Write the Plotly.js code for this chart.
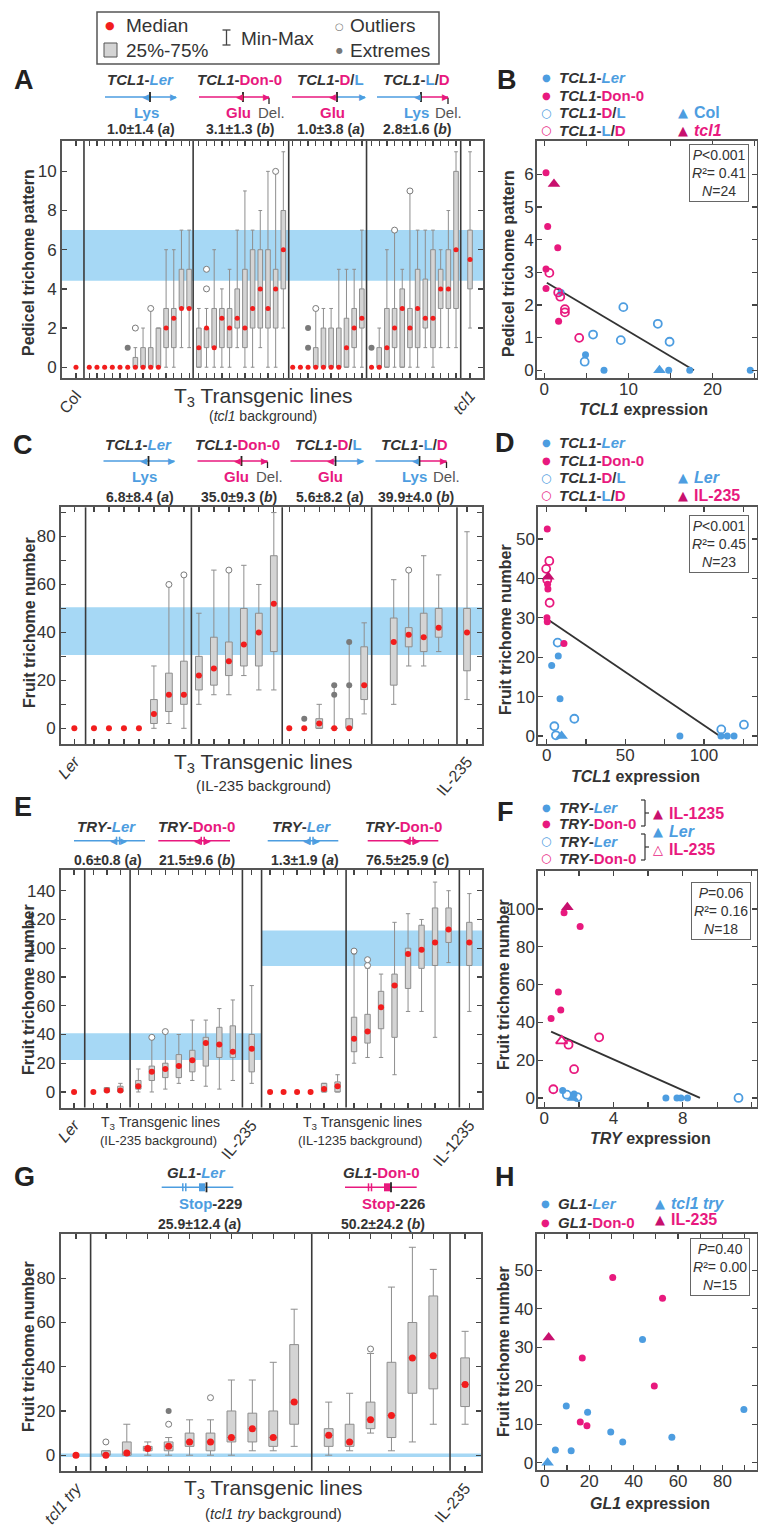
<!DOCTYPE html>
<html><head><meta charset="utf-8">
<script src="https://cdn.plot.ly/plotly-3.0.1.min.js"></script>
<style>html,body{margin:0;padding:0;background:#fff}</style>
</head><body><div id="chart" style="width:758px;height:1526px"></div>
<script>
// ================= DATA =================
// Panel A : pedicel trichome pattern, tcl1 background
const aGroupNames = ['Col','TCL1-Ler','TCL1-Don-0','TCL1-D/L','TCL1-L/D','tcl1'];
const aGroupSizes = [1,14,12,10,12,1];
const aMedian = [0, 0,0,0,0,0,0,0,0,0,0,2,2.5,3,3, 1,2,1,2.5,2,2.5,2,3,4,3,4,6, 0,0,0,0,0,0,0,1,2,2.5, 0,0,1,2,3,2,3,2.5,2.5,4,4,6, 5.5];
const aQ1     = [0, 0,0,0,0,0,0,0,0,0,0,1,1,3,3, 0,1,1,1,1,2,1,2,2,2,2,4, 0,0,0,0,0,0,0,0,1,2, 0,0,0,1,0,1,1,2,1,3,3,3, 4];
const aQ3     = [0, 0,0,0,0,0,0,0.5,1,1,2,3,3,5,5, 2,2,3,3,3,4,5,6,6,6,5,8, 0,0,0,1,2,2,2,2.5,3,4, 0,1,3,3,4,3,5,4.5,6,5,6,10, 7];
const aMin    = [0, 0,0,0,0,0,0,0,0,0,0,0,0,1,1, 0,0,0,0,0,1,0,0,1,0,0,2, 0,0,0,0,0,0,0,0,0,0, 0,0,0,0,0,0,0,1,0,1,1,1, 2];
const aMax    = [0, 0,0,0,0,0,0,1,2,3,2,6,6,7,7, 3,3,6,4,5,7,9,7,8,10,10,11, 0,0,0,3,3,3,5,5,5,7, 0,2,6,7,5,9,7,7,7,6,8,11, 11];
const aOutliers = [[7,2],[9,3],[16,4],[16,5],[25,10],[30,3],[40,7],[42,9]];
const aExtremes = [[6,1],[29,1],[29,2],[37,1]];
const aBand = [4.42, 7.0];
const aMeanSD = [['1.0','1.4','a'],['3.1','1.3','b'],['1.0','3.8','a'],['2.8','1.6','b']];

// Panel B : pedicel pattern vs TCL1 expression
const bLerX = [4.9, 7.1, 14.8, 17.3, 24.5, 2.0],  bLerY = [0.47, 0, 0, 0, 0, 2.38];
const bDonX = [0.2, 0.4, 1.6, 0.2, 0.2, 1.7],     bDonY = [6.05, 4.4, 3.75, 3.1, 2.5, 1.5];
const bDLX  = [4.8, 5.8, 9.1, 9.4, 13.5, 14.9],   bDLY  = [0.26, 1.09, 0.92, 1.93, 1.42, 0.87];
const bLDX  = [0.6, 1.65, 1.9, 2.45, 2.45, 4.15], bLDY  = [2.98, 2.38, 2.25, 1.87, 1.77, 0.99];
const bColXY = [13.7, 0], bTcl1XY = [1.15, 5.7];
const bFitX = [0.3, 17.8], bFitY = [2.68, 0];
const bStats = ['&lt;0.001', '0.41', '24'];

// Panel C : fruit trichome number, IL-235 background
const cGroupSizes = [1,7,6,6,4,1];
const cMedian = [0, 0,0,0,0,6,14,14, 22,25,28,35,40,52, 0,0,2,0,0,18, 36,39,38,42, 40];
const cQ1     = [0, 0,0,0,0,2,7,10, 16,18,22,26,26,32, 0,0,0,0,0,12, 18,34,32,38, 24];
const cQ3     = [0, 0,0,0,0,12,23,28, 30,38,36,50,48,72, 0,0,4,0,4,34, 46,42,48,50, 50];
const cMin    = [0, 0,0,0,0,0,2,0, 10,14,14,22,16,16, 0,0,0,0,0,6, 10,26,26,32, 12];
const cMax    = [0, 0,0,0,0,26,60,64, 48,66,66,68,60,90, 0,0,10,18,36,44, 62,66,72,64, 82];
const cOutliers = [[6,60],[7,64],[10,66],[21,66]];
const cExtremes = [[15,4],[17,14],[17,18],[18,18],[18,36]];
const cBand = [30.6, 50.5];
const cMeanSD = [['6.8','8.4','a'],['35.0','9.3','b'],['5.6','8.2','a'],['39.9','4.0','b']];

// Panel D : fruit trichome number vs TCL1 expression
const dLerX = [3.2, 7.4, 8.5, 84.7, 110.8, 114.8, 119.1], dLerY = [17.9, 20.3, 9.5, 0, 0, 0, 0];
const dDonX = [0.4, 0.6, 0.8, 0.2, 0.4, 11.0],            dDonY = [52.5, 38.5, 37.3, 30.0, 29.0, 23.5];
const dDLX  = [7.0, 4.9, 5.9, 17.6, 111.0, 125.4],        dDLY  = [23.7, 2.5, 0.2, 4.4, 1.7, 2.9];
const dLDX  = [-0.3, 1.7, 1.9, 0.4],                      dLDY  = [42.4, 44.4, 33.8, 39.6];
const dLerXY = [9.5, 0], dIL235XY = [1.0, 40.4];
const dFitX = [0.3, 110], dFitY = [29.7, 0];
const dStats = ['&lt;0.001', '0.45', '23'];

// Panel E : fruit trichome number, TRY transgenes
const eGroupSizes = [1,3,8,1,6,8,1];
const eMedian = [0, 0,1,1, 4,14,16,18,22,34,33,28, 30, 0,0,0,0,2,4, 37,42,59,74,96,99,104,113, 104];
const eQ1     = [0, 0,0,0, 2,8,10,10,14,18,24,24, 14, 0,0,0,0,0,0, 28,34,44,38,72,86,88,104, 88];
const eQ3     = [0, 0,3,4, 8,18,20,26,29,38,45,46, 40, 0,0,0,0,6,7, 52,54,70,82,100,116,128,128, 118];
const eMin    = [0, 0,0,0, 0,0,2,6,8,4,2,8, 6, 0,0,0,0,0,0, 20,24,24,12,56,56,38,90, 56];
const eMax    = [0, 0,3,6, 16,38,42,40,50,50,58,64, 74, 0,0,0,0,6,12, 96,86,82,118,124,120,146,140, 138];
const eOutliers = [[5,38],[6,42],[19,98],[20,88],[20,92]];
const eBand1 = [22.2, 40.8], eBand2 = [87.6, 112.4];
const eMeanSD = [['0.6','0.8','a'],['21.5','9.6','b'],['1.3','1.9','a'],['76.5','25.9','c']];

// Panel F : fruit trichome number vs TRY expression
const fLerX  = [1.06, 1.72, 7.03, 7.67, 7.9, 8.28], fLerY  = [3.9, 2.1, 0, 0, 0, 0];
const fDonX  = [1.14, 2.07, 0.81, 0.95, 0.39],      fDonY  = [98, 90.7, 56.1, 46.6, 42];
const fLerOX = [1.3, 1.91, 11.23],                  fLerOY = [1.7, 0.4, 0];
const fDonOX = [3.17, 1.4, 1.72, 0.52],             fDonOY = [32.1, 28.2, 15.2, 4.6];
const fIL1235XY = [1.33, 101], fLerXY = [1.65, 0], fIL235XY = [1.0, 30.2];
const fFitX = [0.39, 9.0], fFitY = [35.1, 0];
const fStats = ['=0.06', '0.16', '18'];

// Panel G : fruit trichome number, GL1 transgenes (tcl1 try background)
const gGroupSizes = [1,10,6,1];
const gMedian = [0, 0,1,3,4,6,6,8,12,8,24, 9,6,16,18,44,45, 32];
const gQ1     = [0, 0,0,2,2,4,2,6,6,4,14, 4,4,12,8,28,30, 22];
const gQ3     = [0, 2,6,4,6,10,10,20,19,20,50, 12,14,24,42,60,72, 44];
const gMin    = [0, 0,0,0,0,0,0,0,2,2,4, 0,2,10,2,6,14, 14];
const gMax    = [0, 2,14,6,8,16,16,34,34,42,66, 24,28,46,76,94,84, 56];
const gOutliers = [[1,6],[4,14],[6,26],[13,48]];
const gExtremes = [[4,20]];
const gBand = [-0.8, 0.8];
const gMeanSD = [['25.9','12.4','a'],['50.2','24.2','b']];

// Panel H : fruit trichome number vs GL1 expression
const hLerX = [4.8, 9.7, 11.9, 19.3, 29.7, 35.1, 44, 57.2, 89.6], hLerY = [3.3, 14.7, 3.1, 13.1, 8.0, 5.4, 32, 6.6, 13.8];
const hDonX = [30.6, 53, 16.9, 49.3, 16, 19],                    hDonY = [48.1, 42.7, 27.2, 19.9, 10.6, 9.6];
const hTclTryXY = [1.3, 0], hIL235XY = [1.8, 32.5];
const hStats = ['=0.40', '0.00', '15'];

// ================= DRAWING =================
const W = 758, H = 1526;
const X = v => v / W, Y = v => 1 - v / H;
const BLUE = '#4d9de0', MAG = '#e8197e', TXT = '#333333', BAND = '#a6d8f5', FRAME = '#555555', RED = '#f21d1d', DMAG = '#c8106e';
const FONT = '"Liberation Sans", Arial, Helvetica, sans-serif';
const traces = [], shapes = [], annotations = [];
const layout = {
  width: W, height: H, margin: {l: 0, r: 0, t: 0, b: 0}, showlegend: false,
  paper_bgcolor: '#ffffff', plot_bgcolor: '#ffffff', font: {family: FONT, color: TXT},
  hovermode: false
};
const names = n => n === 1 ? {xa: 'xaxis', ya: 'yaxis', xr: 'x', yr: 'y'} : {xa: 'xaxis' + n, ya: 'yaxis' + n, xr: 'x' + n, yr: 'y' + n};
const axBase = () => ({
  showline: true, mirror: 'ticks', linecolor: FRAME, linewidth: 2, ticks: 'inside', ticklen: 5,
  tickwidth: 1.3, tickcolor: '#444', showgrid: false, zeroline: false, fixedrange: true,
  tickfont: {size: 17, color: TXT, family: FONT}
});
function ann(x, y, text, o) {
  annotations.push(Object.assign({xref: 'paper', yref: 'paper', x: X(x), y: Y(y), text: text, showarrow: false,
    xanchor: 'center', yanchor: 'middle', font: {size: 15, color: TXT, family: FONT}}, o || {}));
}
function pline(x0, y0, x1, y1, color, width) {
  shapes.push({type: 'line', xref: 'paper', yref: 'paper', x0: X(x0), y0: Y(y0), x1: X(x1), y1: Y(y1), line: {color: color, width: width || 1.5}});
}
function prect(x0, y0, x1, y1, fill, lc, lw) {
  shapes.push({type: 'rect', xref: 'paper', yref: 'paper', x0: X(x0), y0: Y(y0), x1: X(x1), y1: Y(y1), fillcolor: fill, line: {color: lc || fill, width: lw || 0}});
}
function positions(sizes, gaps) {
  const pos = [], seps = [];
  let x = 0;
  sizes.forEach((s, g) => {
    for (let k = 0; k < s; k++) pos.push(x + k);
    const last = x + s - 1;
    if (g < sizes.length - 1) { const sp = last + gaps[g][0]; seps.push(sp); x = sp + gaps[g][1]; }
  });
  return {pos, seps};
}

function boxPanel(n, box, sizes, gaps, pads, med, q1, q3, lo, hi, outs, exts, ctrl, yr, ytv, ytt, bw, dot) {
  const nm = names(n);
  const {pos, seps} = positions(sizes, gaps);
  const keep = med.map((v, i) => i).filter(i => q3[i] > q1[i] || hi[i] > lo[i]);
  traces.push({type: 'box', xaxis: nm.xr, yaxis: nm.yr, x: keep.map(i => pos[i]),
    q1: keep.map(i => q1[i]), median: keep.map(i => med[i]), q3: keep.map(i => q3[i]),
    lowerfence: keep.map(i => lo[i]), upperfence: keep.map(i => hi[i]),
    width: bw, whiskerwidth: 0.8, fillcolor: '#d4d4d4', line: {color: '#8e8e8e', width: 1}, boxpoints: false, hoverinfo: 'skip'});
  if (outs.length) traces.push({type: 'scatter', mode: 'markers', xaxis: nm.xr, yaxis: nm.yr,
    x: outs.map(o => pos[o[0]]), y: outs.map(o => o[1]),
    marker: {symbol: 'circle', size: 6, color: '#ffffff', line: {color: '#7a7a7a', width: 1}}});
  if (exts.length) traces.push({type: 'scatter', mode: 'markers', xaxis: nm.xr, yaxis: nm.yr,
    x: exts.map(o => pos[o[0]]), y: exts.map(o => o[1]),
    marker: {symbol: 'circle', size: 6, color: '#7a7a7a'}});
  traces.push({type: 'scatter', mode: 'markers', xaxis: nm.xr, yaxis: nm.yr, x: pos, y: med,
    marker: {symbol: 'circle', size: dot, color: RED}});
  const ticktext = pos.map(() => ' ');
  Object.keys(ctrl).forEach(k => { ticktext[k === 'last' ? pos.length - 1 : +k] = ctrl[k]; });
  layout[nm.xa] = Object.assign(axBase(), {domain: [X(box[0]), X(box[1])], anchor: nm.yr,
    range: [pos[0] - pads[0], pos[pos.length - 1] + pads[1]], tickmode: 'array', tickvals: pos, ticktext: ticktext,
    tickangle: -50, tickfont: {size: 16, color: TXT, family: FONT}});
  layout[nm.ya] = Object.assign(axBase(), {domain: [Y(box[3]), Y(box[2])], anchor: nm.xr,
    range: yr, tickmode: 'array', tickvals: ytv, ticktext: ytt});
  seps.forEach(s => shapes.push({type: 'line', xref: nm.xr, yref: nm.yr + ' domain', x0: s, x1: s, y0: 0, y1: 1,
    line: {color: '#3a3a3a', width: 1.6}}));
  return {pos, seps, range: layout[nm.xa].range};
}
function band(n, x0, x1, yv, useDomain) {
  const nm = names(n);
  shapes.push({type: 'rect', xref: useDomain ? nm.xr + ' domain' : nm.xr, yref: nm.yr, x0: x0, x1: x1, y0: yv[0], y1: yv[1],
    fillcolor: BAND, line: {width: 0}, layer: 'below'});
}
function scatPanel(n, box, xr, yr, xtv, xtt, ytv, ytt) {
  const nm = names(n);
  layout[nm.xa] = Object.assign(axBase(), {domain: [X(box[0]), X(box[1])], anchor: nm.yr, range: xr,
    tickmode: 'array', tickvals: xtv, ticktext: xtt, ticklabelstandoff: -5});
  layout[nm.ya] = Object.assign(axBase(), {domain: [Y(box[3]), Y(box[2])], anchor: nm.xr, range: yr,
    tickmode: 'array', tickvals: ytv, ticktext: ytt, ticklabelstandoff: -2});
}
function pts(n, xs, ys, symbol, color, size, open) {
  const nm = names(n);
  traces.push({type: 'scatter', mode: 'markers', xaxis: nm.xr, yaxis: nm.yr, x: xs, y: ys,
    marker: open ? {symbol: symbol, size: size, color: color, line: {color: color, width: 1.8}}
                 : {symbol: symbol, size: size, color: color, line: {width: 0}}});
}
function fit(n, xs, ys) {
  const nm = names(n);
  traces.push({type: 'scatter', mode: 'lines', xaxis: nm.xr, yaxis: nm.yr, x: xs, y: ys, line: {color: '#333', width: 1.8}});
}
function statBox(cx, cy, s) {
  ann(cx, cy, '<i>P</i>' + s[0] + '<br><i>R</i>²= ' + s[1] + '<br><i>N</i>=' + s[2],
    {font: {size: 14, color: TXT, family: FONT}, bordercolor: '#666', borderwidth: 1, borderpad: 2, bgcolor: '#fff'});
}
const range = (a, b, s) => { const r = []; for (let v = a; v <= b + 1e-9; v += s) r.push(+v.toFixed(6)); return r; };
const labEvery = (vals, k) => vals.map((v, i) => i % k === 0 ? String(v) : ' ');
const sp = (c, t) => '<span style="color:' + c + '">' + t + '</span>';
const yTitle = (x, y, t) => ann(x, y, '<b>' + t + '</b>', {textangle: -90, font: {size: 16, color: TXT, family: FONT}});
const letter = (x, y, t) => ann(x, y, '<b>' + t + '</b>', {font: {size: 27, color: '#222', family: FONT}});
const meanTxt = m => '<b>' + m[0] + '±' + m[1] + ' (<i>' + m[2] + '</i>)</b>';

// gene diagram: segments [[x0,x1,color]], marks
function gene(y, segs, marks) {
  segs.forEach(s => pline(s[0], y, s[1], y, s[2], 1.5));
  marks.forEach(m => {
    if (m.t === 'L') ann(m.x, y, '◀', {font: {size: 9, color: m.c, family: 'DejaVu Sans'}});
    else if (m.t === 'R') ann(m.x, y, '▶', {font: {size: 9, color: m.c, family: 'DejaVu Sans'}});
    else if (m.t === 'bar') pline(m.x, y - 5, m.x, y + 5, '#222', 1.8);
    else if (m.t === 'hook') { pline(m.x, y + 1, m.x, y + 7, '#222', 1.3); pline(m.x - 3, y + 1, m.x, y + 1, '#222', 1.3); }
    else if (m.t === 'blk') prect(m.x, y - 4, m.x + (m.w || 5), y + 4, m.c);
    else if (m.t === 'dbl') { pline(m.x - 1.5, y - 4, m.x - 1.5, y + 4, m.c, 1.5); pline(m.x + 1.5, y - 4, m.x + 1.5, y + 4, m.c, 1.5); }
  });
}
function tclHeaders(dx, yName, yArrow, ySub, yStat, meanSD) {
  const nm = [
    '<b><i>TCL1</i>-' + sp(BLUE, '<i>Ler</i>') + '</b>',
    '<b><i>TCL1</i>-' + sp(MAG, 'Don-0') + '</b>',
    '<b><i>TCL1</i>-' + sp(MAG, 'D') + '/' + sp(BLUE, 'L') + '</b>',
    '<b><i>TCL1</i>-' + sp(BLUE, 'L') + '/' + sp(MAG, 'D') + '</b>'];
  const cx = [140, 239, 330, 416];
  nm.forEach((t, i) => ann(cx[i] + dx, yName, t, {font: {size: 15, color: TXT, family: FONT}}));
  meanSD.forEach((m, i) => ann(cx[i] + dx + 1, yStat, meanTxt(m), {font: {size: 14, color: TXT, family: FONT}}));
  gene(yArrow, [[105 + dx, 176 + dx, BLUE]], [{t: 'L', x: 145 + dx, c: BLUE}, {t: 'bar', x: 150 + dx}, {t: 'R', x: 173 + dx, c: BLUE}]);
  gene(yArrow, [[199 + dx, 269 + dx, MAG]], [{t: 'L', x: 239 + dx, c: MAG}, {t: 'bar', x: 243 + dx}, {t: 'R', x: 266 + dx, c: MAG}, {t: 'hook', x: 269 + dx}]);
  gene(yArrow, [[292 + dx, 336 + dx, MAG], [336 + dx, 365 + dx, BLUE]], [{t: 'L', x: 332 + dx, c: MAG}, {t: 'bar', x: 337 + dx}, {t: 'R', x: 362 + dx, c: BLUE}]);
  gene(yArrow, [[377 + dx, 421 + dx, BLUE], [421 + dx, 448 + dx, MAG]], [{t: 'L', x: 417 + dx, c: BLUE}, {t: 'bar', x: 421 + dx}, {t: 'R', x: 445 + dx, c: MAG}, {t: 'hook', x: 448 + dx}]);
  ann(146 + dx, ySub, '<b>' + sp(BLUE, 'Lys') + '</b>');
  ann(238 + dx, ySub, '<b>' + sp(MAG, 'Glu') + '</b>');
  ann(271 + dx, ySub, sp('#555', 'Del.'));
  ann(332 + dx, ySub, '<b>' + sp(MAG, 'Glu') + '</b>');
  ann(416 + dx, ySub, '<b>' + sp(BLUE, 'Lys') + '</b>');
  ann(448 + dx, ySub, sp('#555', 'Del.'));
}

// ---------- Top legend ----------
prect(97, 12, 439, 64, 'rgba(0,0,0,0)', '#555', 1.5);
ann(110, 26, '●', {font: {size: 11, color: RED, family: 'DejaVu Sans'}});
ann(124, 26, 'Median', {xanchor: 'left', font: {size: 19, color: TXT, family: FONT}});
prect(104, 43, 117, 57, '#d4d4d4', '#555', 1);
ann(124, 50, '25%-75%', {xanchor: 'left', font: {size: 19, color: TXT, family: FONT}});
pline(226.5, 30, 226.5, 45, '#444', 1.3); pline(222.5, 30, 230.5, 30, '#444', 1.3); pline(222.5, 45, 230.5, 45, '#444', 1.3);
ann(239, 38, 'Min-Max', {xanchor: 'left', font: {size: 19, color: TXT, family: FONT}});
ann(339, 27, '○', {font: {size: 10, color: '#777', family: 'DejaVu Sans'}});
ann(348, 26, 'Outliers', {xanchor: 'left', font: {size: 19, color: TXT, family: FONT}});
ann(339, 50, '●', {font: {size: 8, color: '#777', family: 'DejaVu Sans'}});
ann(348, 50, 'Extremes', {xanchor: 'left', font: {size: 19, color: TXT, family: FONT}});

// ---------- Panel A ----------
const A = boxPanel(1, [62, 483, 141, 378], aGroupSizes, [[1.04, 0.69], [0.52, 0.74], [0.7, 0.52], [0.61, 0.65], [0.61, 1.21]], [1.82, 1.69],
  aMedian, aQ1, aQ3, aMin, aMax, aOutliers, aExtremes, {0: 'Col', last: '<i>tcl1</i>'}, [-0.55, 11.55], range(0, 10, 2), range(0, 10, 2).map(String), 0.6, 5);
band(1, 0, 1, aBand, true);
letter(24, 80, 'A');
tclHeaders(0, 79, 97, 112, 129, aMeanSD);
yTitle(28, 263, 'Pedicel trichome pattern');
ann(263, 397, 'T<sub>3</sub> Transgenic lines', {font: {size: 21, color: TXT, family: FONT}});
ann(263, 416, '(<i>tcl1</i> background)', {font: {size: 14, color: TXT, family: FONT}});

// ---------- Panel B ----------
scatPanel(2, [537, 757, 141, 378], [-0.87, 25.3], [-0.24, 7.02], range(0, 25, 5), ['0', ' ', '10', ' ', '20', ' '], range(0, 6, 1), range(0, 6, 1).map(String));
fit(2, bFitX, bFitY);
pts(2, bLerX, bLerY, 'circle', BLUE, 7);
pts(2, bDLX, bDLY, 'circle-open', BLUE, 8, true);
pts(2, bDonX, bDonY, 'circle', MAG, 7);
pts(2, bLDX, bLDY, 'circle-open', MAG, 8, true);
pts(2, [bColXY[0]], [bColXY[1]], 'triangle-up', BLUE, 11);
pts(2, [bTcl1XY[0]], [bTcl1XY[1]], 'triangle-up', DMAG, 11);
statBox(718.5, 173, bStats);
letter(507, 80, 'B');
yTitle(508, 264, 'Pedicel trichome pattern');
ann(643, 409, '<b><i>TCL1</i> expression</b>', {font: {size: 16, color: TXT, family: FONT}});
function tclLegend(y0, triA, triB) {
  const rows = [['●', BLUE, '<b><i>TCL1</i>-' + sp(BLUE, '<i>Ler</i>') + '</b>'],
    ['●', MAG, '<b><i>TCL1</i>-' + sp(MAG, 'Don-0') + '</b>'],
    ['○', BLUE, '<b><i>TCL1</i>-' + sp(MAG, 'D') + '/' + sp(BLUE, 'L') + '</b>'],
    ['○', MAG, '<b><i>TCL1</i>-' + sp(BLUE, 'L') + '/' + sp(MAG, 'D') + '</b>']];
  rows.forEach((r, i) => {
    const y = y0 + i * 17.5;
    ann(546, y, r[0], {font: {size: r[0] === '●' ? 10 : 12, color: r[1], family: 'DejaVu Sans'}});
    ann(557, y, r[2], {xanchor: 'left', font: {size: 15, color: TXT, family: FONT}});
  });
  ann(683, y0 + 2 * 17.5, '▲', {font: {size: 13, color: BLUE, family: 'DejaVu Sans'}});
  ann(692, y0 + 2 * 17.5, '<b>' + triA + '</b>', {xanchor: 'left', font: {size: 16, color: BLUE, family: FONT}});
  ann(683, y0 + 3 * 17.5, '▲', {font: {size: 13, color: DMAG, family: 'DejaVu Sans'}});
  ann(692, y0 + 3 * 17.5, '<b>' + triB + '</b>', {xanchor: 'left', font: {size: 16, color: MAG, family: FONT}});
}
tclLegend(77.5, 'Col', '<i>tcl1</i>');

// ---------- Panel C ----------
const C = boxPanel(3, [61, 482.3, 507.3, 744], cGroupSizes, [[0.75, 0.56], [0.5, 0.5], [0.56, 0.47], [0.5, 1.47], [1.22, 0.67]], [0.89, 1.02],
  cMedian, cQ1, cQ3, cMin, cMax, cOutliers, cExtremes, {0: '<i>Ler</i>', last: 'IL-235'}, [-6.55, 92.2], range(0, 90, 10), labEvery(range(0, 90, 10), 2), 0.45, 6);
band(3, 0, 1, cBand, true);
letter(23, 445, 'C');
tclHeaders(-1.5, 445, 461, 477, 497, cMeanSD);
yTitle(29, 623, 'Fruit trichome number');
ann(263, 763, 'T<sub>3</sub> Transgenic lines', {font: {size: 21, color: TXT, family: FONT}});
ann(263, 785, '(IL-235 background)', {font: {size: 15, color: TXT, family: FONT}});

// ---------- Panel D ----------
scatPanel(4, [538.3, 757, 507.3, 744], [-5.3, 133.7], [-2.0, 58.0], range(0, 125, 25), ['0', ' ', '50', ' ', '100', ' '], range(0, 50, 10), range(0, 50, 10).map(String));
fit(4, dFitX, dFitY);
pts(4, dLerX, dLerY, 'circle', BLUE, 7);
pts(4, dDLX, dDLY, 'circle-open', BLUE, 8, true);
pts(4, dDonX, dDonY, 'circle', MAG, 7);
pts(4, dLDX, dLDY, 'circle-open', MAG, 8, true);
pts(4, [dLerXY[0]], [dLerXY[1]], 'triangle-up', BLUE, 11);
pts(4, [dIL235XY[0]], [dIL235XY[1]], 'triangle-up', DMAG, 11);
statBox(719, 544, dStats);
letter(505, 443, 'D');
yTitle(505, 630, 'Fruit trichome number');
ann(635, 776, '<b><i>TCL1</i> expression</b>', {font: {size: 16, color: TXT, family: FONT}});
tclLegend(442.7, '<i>Ler</i>', 'IL-235');

// ---------- Panel E ----------
const E = boxPanel(5, [60.7, 482.3, 870, 1107.5], eGroupSizes, [[0.79, 0.64], [0.72, 0.61], [0.71, 0.69], [0.73, 0.63], [0.63, 0.59], [0.8, 0.74]], [0.99, 0.96],
  eMedian, eQ1, eQ3, eMin, eMax, eOutliers, [], {0: '<i>Ler</i>', 12: 'IL-235', last: 'IL-1235'}, [-10.8, 154.4], range(0, 140, 20), range(0, 140, 20).map(String), 0.4, 6);
band(5, E.range[0], E.seps[3], eBand1, false);
band(5, E.seps[3], E.range[1], eBand2, false);
letter(23, 807, 'E');
const tryNames = ['<b><i>TRY</i>-' + sp(BLUE, '<i>Ler</i>') + '</b>', '<b><i>TRY</i>-' + sp(MAG, 'Don-0') + '</b>'];
[[106.7, 0], [196, 1], [301.7, 0], [403.3, 1]].forEach(h => ann(h[0], 826, tryNames[h[1]], {font: {size: 15, color: TXT, family: FONT}}));
[108.3, 196.7, 305, 407.3].forEach((x, i) => ann(x, 860, meanTxt(eMeanSD[i]), {font: {size: 14, color: TXT, family: FONT}}));
[[74, 145, BLUE], [158.3, 230, MAG], [267.7, 338.3, BLUE], [367.7, 438.3, MAG]].forEach(g => {
  const c0 = g[0] + (g[1] - g[0]) * 0.55;
  gene(840.7, [[g[0], g[1], g[2]]], [{t: 'L', x: c0, c: g[2]}, {t: 'dbl', x: c0 + 5, c: g[2]}, {t: 'R', x: c0 + 10, c: g[2]}]);
});
yTitle(28, 990, 'Fruit trichome number');
ann(160, 1123, 'T<sub>3</sub> Transgenic lines', {font: {size: 14, color: TXT, family: FONT}});
ann(158, 1140, '(IL-235 background)', {font: {size: 13, color: TXT, family: FONT}});
ann(362, 1123, 'T<sub>3</sub> Transgenic lines', {font: {size: 14, color: TXT, family: FONT}});
ann(360, 1140, '(IL-1235 background)', {font: {size: 13, color: TXT, family: FONT}});

// ---------- Panel F ----------
scatPanel(6, [538.3, 757, 870.7, 1107], [-0.35, 12.3], [-4.8, 120.3], range(0, 12, 2), ['0', ' ', '4', ' ', '8', ' ', '12'], range(0, 100, 20), range(0, 100, 20).map(String));
fit(6, fFitX, fFitY);
pts(6, fLerX, fLerY, 'circle', BLUE, 7);
pts(6, fLerOX, fLerOY, 'circle-open', BLUE, 8, true);
pts(6, fDonX, fDonY, 'circle', MAG, 7);
pts(6, fDonOX, fDonOY, 'circle-open', MAG, 8, true);
pts(6, [fLerXY[0]], [fLerXY[1]], 'triangle-up', BLUE, 11);
pts(6, [fIL1235XY[0]], [fIL1235XY[1]], 'triangle-up', DMAG, 11);
pts(6, [fIL235XY[0]], [fIL235XY[1]], 'triangle-up-open', MAG, 10, true);
statBox(720.7, 911, fStats);
letter(505, 812, 'F');
yTitle(503, 985, 'Fruit trichome number');
ann(650, 1138, '<b><i>TRY</i> expression</b>', {font: {size: 16, color: TXT, family: FONT}});
[['●', BLUE, '<b><i>TRY</i>-' + sp(BLUE, '<i>Ler</i>') + '</b>'], ['●', MAG, '<b><i>TRY</i>-' + sp(MAG, 'Don-0') + '</b>'],
 ['○', BLUE, '<b><i>TRY</i>-' + sp(BLUE, '<i>Ler</i>') + '</b>'], ['○', MAG, '<b><i>TRY</i>-' + sp(MAG, 'Don-0') + '</b>']].forEach((r, i) => {
  const y = 807 + i * 17;
  ann(546, y, r[0], {font: {size: r[0] === '●' ? 10 : 12, color: r[1], family: 'DejaVu Sans'}});
  ann(557, y, r[2], {xanchor: 'left', font: {size: 15, color: TXT, family: FONT}});
});
[[800, 826], [834, 860]].forEach(b => { pline(645, b[0], 645, b[1], '#333', 1.2); pline(641, b[0], 645, b[0], '#333', 1.2); pline(641, b[1], 645, b[1], '#333', 1.2); pline(645, (b[0] + b[1]) / 2, 649, (b[0] + b[1]) / 2, '#333', 1.2); });
ann(658, 813, '▲', {font: {size: 13, color: DMAG, family: 'DejaVu Sans'}});
ann(667, 813, '<b>IL-1235</b>', {xanchor: 'left', font: {size: 16, color: MAG, family: FONT}});
ann(658, 831, '▲', {font: {size: 13, color: BLUE, family: 'DejaVu Sans'}});
ann(667, 831, '<b><i>Ler</i></b>', {xanchor: 'left', font: {size: 16, color: BLUE, family: FONT}});
ann(658, 849, '△', {font: {size: 13, color: MAG, family: 'DejaVu Sans'}});
ann(667, 849, '<b>IL-235</b>', {xanchor: 'left', font: {size: 16, color: MAG, family: FONT}});

// ---------- Panel G ----------
const G = boxPanel(7, [60.7, 481, 1234, 1470.7], gGroupSizes, [[0.70, 0.73], [0.84, 0.81], [0.8, 0.72]], [0.73, 0.76],
  gMedian, gQ1, gQ3, gMin, gMax, gOutliers, gExtremes, {0: '<i>tcl1 try</i>', last: 'IL-235'}, [-7.0, 100], range(0, 80, 20), range(0, 80, 20).map(String), 0.42, 7);
band(7, 0, 1, gBand, true);
letter(24, 1177, 'G');
ann(196.7, 1172, '<b><i>GL1</i>-' + sp(BLUE, '<i>Ler</i>') + '</b>', {font: {size: 15, color: TXT, family: FONT}});
ann(381, 1172, '<b><i>GL1</i>-' + sp(MAG, 'Don-0') + '</b>', {font: {size: 15, color: TXT, family: FONT}});
gene(1187.3, [[161.7, 233.3, BLUE]], [{t: 'dbl', x: 184.3, c: BLUE}, {t: 'blk', x: 199, w: 6, c: BLUE}, {t: 'bar', x: 206.5}]);
gene(1187.3, [[345, 416.7, MAG]], [{t: 'dbl', x: 370, c: MAG}, {t: 'blk', x: 384, w: 6, c: MAG}, {t: 'bar', x: 391}]);
ann(210.7, 1203, '<b>' + sp(BLUE, 'Stop') + '-229</b>', {font: {size: 15, color: TXT, family: FONT}});
ann(393.3, 1203, '<b>' + sp(MAG, 'Stop') + '-226</b>', {font: {size: 15, color: TXT, family: FONT}});
ann(199, 1224, meanTxt(gMeanSD[0]), {font: {size: 14, color: TXT, family: FONT}});
ann(383.3, 1224, meanTxt(gMeanSD[1]), {font: {size: 14, color: TXT, family: FONT}});
yTitle(28, 1347, 'Fruit trichome number');
ann(273, 1489, 'T<sub>3</sub> Transgenic lines', {font: {size: 21, color: TXT, family: FONT}});
ann(273, 1513, '(<i>tcl1 try</i> background)', {font: {size: 15, color: TXT, family: FONT}});

// ---------- Panel H ----------
scatPanel(8, [536.7, 757, 1234, 1470], [-3.6, 95.5], [-1.9, 59.4], range(0, 90, 10), labEvery(range(0, 90, 10), 2), range(0, 50, 10), range(0, 50, 10).map(String));
pts(8, hLerX, hLerY, 'circle', BLUE, 7);
pts(8, hDonX, hDonY, 'circle', MAG, 7);
pts(8, [hTclTryXY[0]], [hTclTryXY[1]], 'triangle-up', BLUE, 11);
pts(8, [hIL235XY[0]], [hIL235XY[1]], 'triangle-up', DMAG, 11);
statBox(720, 1267, hStats);
letter(505, 1177, 'H');
yTitle(503, 1352, 'Fruit trichome number');
ann(650, 1503, '<b><i>GL1</i> expression</b>', {font: {size: 16, color: TXT, family: FONT}});
ann(545, 1203, '●', {font: {size: 10, color: BLUE, family: 'DejaVu Sans'}});
ann(556, 1203, '<b><i>GL1</i>-' + sp(BLUE, '<i>Ler</i>') + '</b>', {xanchor: 'left', font: {size: 15, color: TXT, family: FONT}});
ann(545, 1222, '●', {font: {size: 10, color: MAG, family: 'DejaVu Sans'}});
ann(556, 1222, '<b><i>GL1</i>-' + sp(MAG, 'Don-0') + '</b>', {xanchor: 'left', font: {size: 15, color: TXT, family: FONT}});
ann(660, 1203, '▲', {font: {size: 13, color: BLUE, family: 'DejaVu Sans'}});
ann(669, 1203, '<b><i>tcl1 try</i></b>', {xanchor: 'left', font: {size: 16, color: BLUE, family: FONT}});
ann(660, 1219, '▲', {font: {size: 13, color: DMAG, family: 'DejaVu Sans'}});
ann(669, 1219, '<b>IL-235</b>', {xanchor: 'left', font: {size: 16, color: MAG, family: FONT}});

layout.shapes = shapes;
layout.annotations = annotations;
Plotly.newPlot('chart', traces, layout, {staticPlot: true, displayModeBar: false});
</script></body></html>
